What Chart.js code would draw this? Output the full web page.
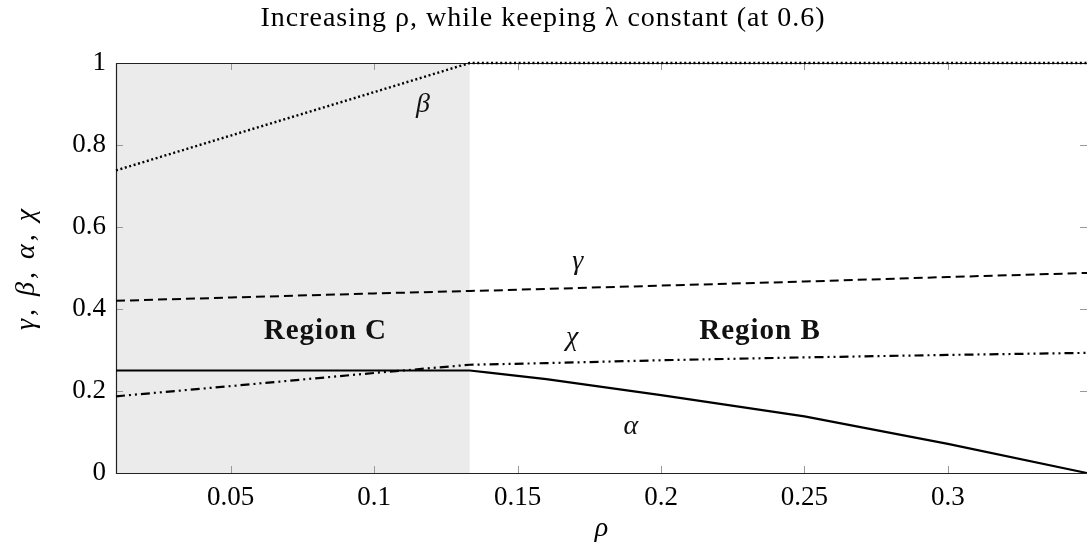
<!DOCTYPE html>
<html>
<head>
<meta charset="utf-8">
<script src="https://cdn.jsdelivr.net/npm/chart.js@4.4.0/dist/chart.umd.min.js"></script>
<style>
  html, body { margin: 0; padding: 0; background: #fff; }
  #wrap { width: 1087px; height: 545px; position: relative; }
</style>
</head>
<body>
<div id="wrap"><canvas id="chart_0"></canvas></div>
<script>
// Data
const rho   = [0.01, 0.05, 0.1, 0.1333, 0.14, 0.16, 0.2, 0.25, 0.3, 0.3485];
const gamma = [0.420, 0.428, 0.438, 0.444, 0.445, 0.449, 0.457, 0.467, 0.478, 0.488];
const beta  = [0.738, 0.823, 0.929, 1, 1, 1, 1, 1, 1, 1];
const alpha = [0.25, 0.25, 0.25, 0.25, 0.245, 0.229, 0.19, 0.138, 0.071, 0];
const chi   = [0.187, 0.212, 0.244, 0.264, 0.265, 0.268, 0.275, 0.282, 0.288, 0.293];

const xTicks = [0.05, 0.1, 0.15, 0.2, 0.25, 0.3];
const yTicks = [0, 0.2, 0.4, 0.6, 0.8, 1];
const regionC = [0.01, 0.1333];

// Curve and region labels: [text, rho, value, style]
const labels = [
    ['\u03B2', 0.117, 0.898, 'italic'],
    ['\u03B3', 0.171, 0.515, 'italic'],
    ['\u03C7', 0.169, 0.330, 'italic'],
    ['\u03B1', 0.1895, 0.113, 'italic'],
    ['Region C', 0.083, 0.345, 'bold'],
    ['Region B', 0.2345, 0.345, 'bold']
];

const FONT = "'Liberation Serif', 'DejaVu Serif', serif";

function toPoints(ys) {
    return rho.map((x, i) => ({ x: x, y: ys[i] }));
}

// shaded region, frame, inward ticks, labels, titles
const decor = {
    id: 'decor',
    beforeDatasetsDraw(chart) {
        const { ctx, chartArea: a, scales: { x, y } } = chart;
        ctx.save();
        ctx.fillStyle = '#ebebeb';
        const x0 = x.getPixelForValue(regionC[0]);
        const x1 = x.getPixelForValue(regionC[1]);
        ctx.fillRect(x0, a.top, x1 - x0, a.bottom - a.top);

        ctx.strokeStyle = '#999';
        ctx.lineWidth = 1;
        ctx.beginPath();
        xTicks.forEach(v => {
            const px = Math.round(x.getPixelForValue(v)) + 0.5;
            ctx.moveTo(px, a.bottom); ctx.lineTo(px, a.bottom - 7);
            ctx.moveTo(px, a.top); ctx.lineTo(px, a.top + 7);
        });
        yTicks.forEach(v => {
            const py = Math.round(y.getPixelForValue(v)) + 0.5;
            ctx.moveTo(a.left, py); ctx.lineTo(a.left + 7, py);
            ctx.moveTo(a.right, py); ctx.lineTo(a.right - 7, py);
        });
        ctx.stroke();

        // frame (right side falls off the canvas in the reference)
        ctx.strokeStyle = '#222';
        ctx.lineWidth = 1.2;
        ctx.beginPath();
        ctx.moveTo(a.right, a.top + 0.5);
        ctx.lineTo(a.left + 0.5, a.top + 0.5);
        ctx.lineTo(a.left + 0.5, a.bottom + 0.5);
        ctx.lineTo(a.right, a.bottom + 0.5);
        ctx.stroke();
        ctx.restore();
    },
    afterDatasetsDraw(chart) {
        const { ctx, chartArea: a, scales: { x, y } } = chart;
        ctx.save();
        ctx.fillStyle = '#111';
        ctx.textAlign = 'center';
        ctx.textBaseline = 'middle';
        labels.forEach(([t, rx, ry, st]) => {
            if (st === 'bold') {
                ctx.font = 'bold 29px ' + FONT;
                ctx.letterSpacing = '1px';
            } else {
                ctx.font = 'italic 28px ' + FONT;
                ctx.letterSpacing = '0px';
            }
            ctx.fillText(t, x.getPixelForValue(rx), y.getPixelForValue(ry));
        });

        // title
        ctx.fillStyle = '#000';
        ctx.font = '28px ' + FONT;
        ctx.letterSpacing = '1px';
        ctx.fillText('Increasing \u03C1, while keeping \u03BB constant (at 0.6)', 543, 19);

        // y axis title
        ctx.translate(27, (a.top + a.bottom) / 2);
        ctx.rotate(-Math.PI / 2);
        ctx.font = 'italic 28px ' + FONT;
        ctx.letterSpacing = '3px';
        ctx.fillText('\u03B3, \u03B2, \u03B1, \u03C7', 0, 0);
        ctx.restore();
    }
};

function createChart0() {
    const ctx = document.getElementById('chart_0');

    new Chart(ctx.getContext('2d'), {
        type: 'line',
        data: {
            datasets: [
                {
                    label: 'beta',
                    data: toPoints(beta),
                    borderColor: '#000',
                    borderWidth: 2.4,
                    borderDash: [2, 2.6],
                    pointRadius: 0,
                    clip: 4
                },
                {
                    label: 'gamma',
                    data: toPoints(gamma),
                    borderColor: '#000',
                    borderWidth: 2,
                    borderDash: [9, 5],
                    pointRadius: 0
                },
                {
                    label: 'chi',
                    data: toPoints(chi),
                    borderColor: '#000',
                    borderWidth: 2.2,
                    borderDash: [9, 4, 2, 4, 2, 4],
                    pointRadius: 0
                },
                {
                    label: 'alpha',
                    data: toPoints(alpha),
                    borderColor: '#000',
                    borderWidth: 2.2,
                    pointRadius: 0
                }
            ]
        },
        options: {
            responsive: true,
            maintainAspectRatio: false,
            animation: false,
            layout: { padding: { top: 63, right: 0, left: 0, bottom: 0 } },
            plugins: {
                legend: { display: false },
                tooltip: { enabled: false }
            },
            scales: {
                x: {
                    type: 'linear',
                    min: regionC[0],
                    max: 0.3485,
                    afterBuildTicks: s => { s.ticks = xTicks.map(v => ({ value: v })); },
                    afterFit: s => { s.height = 72; },
                    grid: { display: false, drawTicks: false },
                    border: { display: false },
                    ticks: {
                        padding: 9,
                        color: '#000',
                        font: { family: FONT, size: 27 },
                        callback: v => String(v)
                    },
                    title: {
                        display: true,
                        text: '\u03C1',
                        color: '#000',
                        font: { family: FONT, size: 28, style: 'italic' },
                        padding: { top: 0, bottom: 0 }
                    }
                },
                y: {
                    type: 'linear',
                    min: 0,
                    max: 1,
                    afterBuildTicks: s => { s.ticks = yTicks.map(v => ({ value: v })); },
                    afterFit: s => { s.width = 116; },
                    grid: { display: false, drawTicks: false },
                    border: { display: false },
                    ticks: {
                        padding: 10,
                        color: '#000',
                        font: { family: FONT, size: 27 },
                        callback: v => String(v)
                    }
                }
            }
        },
        plugins: [decor]
    });
}

document.addEventListener('DOMContentLoaded', createChart0);
</script>
</body>
</html>
